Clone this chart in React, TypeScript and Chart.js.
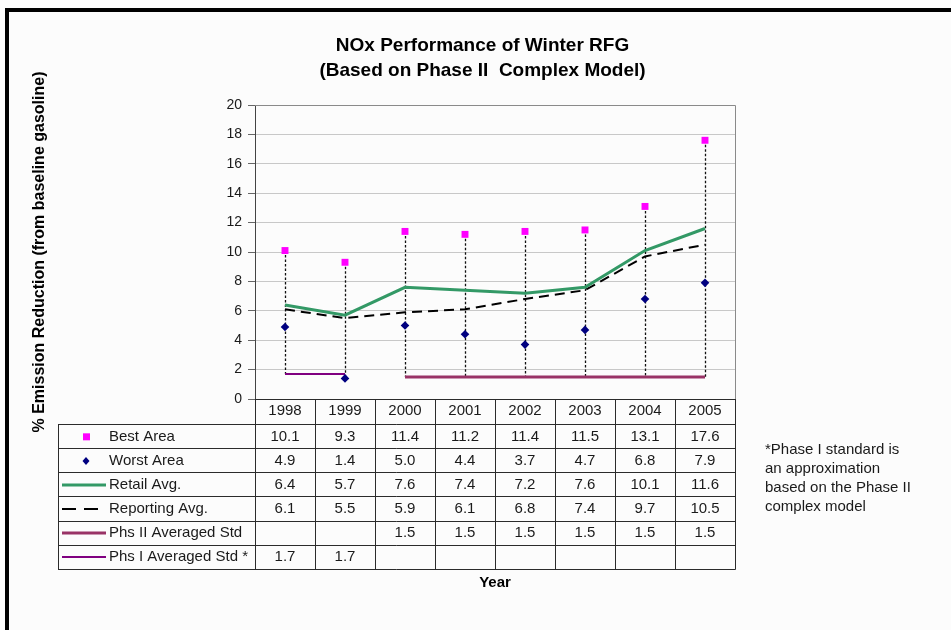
import React, { useEffect, useRef } from "react";
import { Chart, registerables } from "chart.js";

Chart.register(...registerables);

// ---------- data ----------
const years = ["1998", "1999", "2000", "2001", "2002", "2003", "2004", "2005"];
const bestArea = [10.1, 9.3, 11.4, 11.2, 11.4, 11.5, 13.1, 17.6];
const worstArea = [4.9, 1.4, 5.0, 4.4, 3.7, 4.7, 6.8, 7.9];
const retailAvg = [6.4, 5.7, 7.6, 7.4, 7.2, 7.6, 10.1, 11.6];
const reportingAvg = [6.1, 5.5, 5.9, 6.1, 6.8, 7.4, 9.7, 10.5];
const phs2Std: (number | null)[] = [null, null, 1.5, 1.5, 1.5, 1.5, 1.5, 1.5];
const phs1Std: (number | null)[] = [1.7, 1.7, null, null, null, null, null, null];

const rowLabels = [
  "Best Area",
  "Worst Area",
  "Retail Avg.",
  "Reporting Avg.",
  "Phs II Averaged Std",
  "Phs I Averaged Std *",
];
const yMin = 0;
const yMax = 20;
const yStep = 2;

const titleLines = ["NOx Performance of Winter RFG", "(Based on Phase II  Complex Model)"];
const yTitle = "% Emission Reduction (from baseline gasoline)";
const xTitle = "Year";
const noteLines = ["*Phase I standard is", "an approximation", "based on the Phase II", "complex model"];

// ---------- styles ----------
const FONT = '"Liberation Sans", Arial, Helvetica, sans-serif';
const C_BEST = "#ff00ff";
const C_WORST = "#000080";
const C_RETAIL = "#339966";
const C_REPORT = "#000000";
const C_PHS2 = "#993366";
const C_PHS1 = "#800080";

const seriesList = [
  { label: rowLabels[0], data: bestArea, kind: "square", color: C_BEST },
  { label: rowLabels[1], data: worstArea, kind: "diamond", color: C_WORST },
  { label: rowLabels[2], data: retailAvg, kind: "line", color: C_RETAIL, width: 3 },
  { label: rowLabels[3], data: reportingAvg, kind: "dash", color: C_REPORT, width: 2 },
  { label: rowLabels[4], data: phs2Std, kind: "line", color: C_PHS2, width: 3 },
  { label: rowLabels[5], data: phs1Std, kind: "line", color: C_PHS1, width: 2 },
];

const framePlugin = {
  id: "frame",
  beforeDraw(chart: any) {
    const { ctx, width, height } = chart;
    ctx.save();
    ctx.fillStyle = "#fcfcfc";
    ctx.fillRect(0, 0, width, height);
    ctx.fillStyle = "#000";
    ctx.fillRect(5, 8, width - 5, 4);
    ctx.fillRect(5, 8, 4, height - 8);
    ctx.restore();
  },
};

const hiLoPlugin = {
  id: "hiLo",
  beforeDatasetsDraw(chart: any) {
    const { ctx } = chart;
    const xs = chart.scales.x;
    const ys = chart.scales.y;
    ctx.save();
    ctx.strokeStyle = "#111";
    ctx.lineWidth = 1.3;
    ctx.setLineDash([2.5, 2]);
    years.forEach((_, i) => {
      const vals: number[] = [];
      seriesList.forEach((s) => {
        const v = s.data[i];
        if (v !== null && v !== undefined) vals.push(v as number);
      });
      if (vals.length < 2) return;
      const x = Math.round(xs.getPixelForValue(i)) + 0.5;
      ctx.beginPath();
      ctx.moveTo(x, ys.getPixelForValue(Math.max(...vals)));
      ctx.lineTo(x, ys.getPixelForValue(Math.min(...vals)));
      ctx.stroke();
    });
    ctx.restore();
  },
  afterDatasetsDraw(chart: any) {
    const { ctx, chartArea } = chart;
    ctx.save();
    ctx.strokeStyle = "#8a8a8a";
    ctx.lineWidth = 1;
    ctx.beginPath();
    const t = Math.round(chartArea.top) + 0.5;
    const r = Math.round(chartArea.right) + 0.5;
    ctx.moveTo(chartArea.left, t);
    ctx.lineTo(r, t);
    ctx.lineTo(r, chartArea.bottom);
    ctx.stroke();
    ctx.restore();
  },
};

const tablePlugin = {
  id: "dataTable",
  afterDraw(chart: any) {
    const { ctx, chartArea } = chart;
    const xs = chart.scales.x;
    const n = years.length;
    const colW = (chartArea.right - chartArea.left) / n;
    const left = 58;
    const headerBottom = chartArea.bottom + 25.3;
    const rowH = 24.05;
    const tableBottom = headerBottom + seriesList.length * rowH;
    const px = (v: number) => Math.round(v) + 0.5;

    ctx.save();
    ctx.strokeStyle = "#2b2b2b";
    ctx.lineWidth = 1;
    ctx.setLineDash([]);
    ctx.beginPath();
    // axis line
    ctx.moveTo(chartArea.left, px(chartArea.bottom));
    ctx.lineTo(chartArea.right + 0.5, px(chartArea.bottom));
    for (let r = 0; r <= seriesList.length; r++) {
      const y = px(headerBottom + r * rowH);
      ctx.moveTo(left, y);
      ctx.lineTo(chartArea.right + 0.5, y);
    }
    ctx.moveTo(px(left), px(headerBottom));
    ctx.lineTo(px(left), px(tableBottom));
    for (let c = 0; c <= n; c++) {
      const x = px(chartArea.left + c * colW);
      ctx.moveTo(x, chartArea.bottom);
      ctx.lineTo(x, px(tableBottom));
    }
    ctx.stroke();

    ctx.font = `15px ${FONT}`;
    ctx.textBaseline = "middle";
    seriesList.forEach((s, r) => {
      const cy = headerBottom + r * rowH + rowH / 2 + 0.5;
      // legend key
      ctx.save();
      if (s.kind === "square") {
        ctx.fillStyle = s.color;
        ctx.fillRect(83, cy - 3.5, 7, 7);
      } else if (s.kind === "diamond") {
        ctx.fillStyle = s.color;
        ctx.beginPath();
        ctx.moveTo(86, cy - 4);
        ctx.lineTo(89.5, cy);
        ctx.lineTo(86, cy + 4);
        ctx.lineTo(82.5, cy);
        ctx.closePath();
        ctx.fill();
      } else {
        ctx.strokeStyle = s.color;
        ctx.lineWidth = s.width || 2;
        if (s.kind === "dash") ctx.setLineDash([14, 8]);
        ctx.beginPath();
        ctx.moveTo(62, cy);
        ctx.lineTo(106, cy);
        ctx.stroke();
      }
      ctx.restore();
      ctx.fillStyle = "#1a1a1a";
      ctx.textAlign = "left";
      ctx.fillText(s.label, 109, cy);
      ctx.textAlign = "center";
      s.data.forEach((v, i) => {
        if (v === null || v === undefined) return;
        ctx.fillText((v as number).toFixed(1), xs.getPixelForValue(i), cy);
      });
    });

    // note
    ctx.textAlign = "left";
    ctx.fillStyle = "#1a1a1a";
    noteLines.forEach((line, i) => {
      ctx.fillText(line, 765, 450 + i * 19);
    });
    ctx.restore();
  },
};

export default function App() {
  const canvasRef = useRef<HTMLCanvasElement | null>(null);

  useEffect(() => {
    const canvas = canvasRef.current;
    if (!canvas) return;
    Chart.defaults.font.family = FONT;
    const chart = new Chart(canvas, {
      type: "line",
      data: {
        labels: years,
        datasets: [
          {
            label: rowLabels[0],
            data: bestArea,
            showLine: false,
            pointStyle: "rect",
            pointRadius: 4.9,
            pointBackgroundColor: C_BEST,
            pointBorderColor: C_BEST,
            pointBorderWidth: 0,
            borderColor: C_BEST,
            backgroundColor: C_BEST,
          },
          {
            label: rowLabels[1],
            data: worstArea,
            showLine: false,
            pointStyle: "rectRot",
            pointRadius: 4.3,
            pointBackgroundColor: C_WORST,
            pointBorderColor: C_WORST,
            pointBorderWidth: 0,
            borderColor: C_WORST,
            backgroundColor: C_WORST,
          },
          {
            label: rowLabels[2],
            data: retailAvg,
            borderColor: C_RETAIL,
            borderWidth: 3,
            pointRadius: 0,
            tension: 0,
          },
          {
            label: rowLabels[3],
            data: reportingAvg,
            borderColor: C_REPORT,
            borderWidth: 2,
            borderDash: [10, 6],
            pointRadius: 0,
            tension: 0,
          },
          {
            label: rowLabels[4],
            data: phs2Std,
            borderColor: C_PHS2,
            borderWidth: 3,
            pointRadius: 0,
            spanGaps: false,
          },
          {
            label: rowLabels[5],
            data: phs1Std,
            borderColor: C_PHS1,
            borderWidth: 2,
            pointRadius: 0,
            spanGaps: false,
          },
        ],
      },
      options: {
        animation: false,
        responsive: false,
        devicePixelRatio: 1,
        layout: { padding: { left: 14, right: 0, top: 0, bottom: 38 } },
        plugins: {
          legend: { display: false },
          tooltip: { enabled: false },
          title: {
            display: true,
            text: titleLines,
            color: "#000",
            font: { size: 19, weight: "bold", lineHeight: 25 / 19, family: FONT },
            padding: { top: 33.5, bottom: 21.5 },
          },
        },
        scales: {
          x: {
            type: "category",
            offset: true,
            grid: { display: false, drawTicks: false },
            border: { display: false },
            ticks: {
              color: "#1a1a1a",
              font: { size: 15, family: FONT },
              padding: 3,
              autoSkip: false,
              maxRotation: 0,
            },
            title: {
              display: true,
              text: xTitle,
              color: "#000",
              font: { size: 15, weight: "bold", family: FONT },
              padding: { top: 0, bottom: 0 },
            },
            afterFit: (s: any) => {
              s.height = 193;
            },
          },
          y: {
            type: "linear",
            position: "left",
            min: yMin,
            max: yMax,
            ticks: {
              stepSize: yStep,
              color: "#1a1a1a",
              font: { size: 14, family: FONT },
              padding: 6,
            },
            grid: { color: "#c8c8c8", tickColor: "#666", tickLength: 7, lineWidth: 1 },
            border: { color: "#444", width: 1 },
            title: {
              display: true,
              text: yTitle,
              color: "#000",
              font: { size: 16, weight: "bold", family: FONT },
              padding: { top: 16, bottom: 0 },
            },
            afterFit: (s: any) => {
              s.width = 241;
            },
          },
          yRight: {
            type: "linear",
            position: "right",
            min: yMin,
            max: yMax,
            grid: { display: false, drawOnChartArea: false, drawTicks: false },
            border: { display: false },
            ticks: { display: false },
            afterFit: (s: any) => {
              s.width = 216;
            },
          },
        },
      },
      plugins: [framePlugin, hiLoPlugin, tablePlugin],
    } as any);
    return () => chart.destroy();
  }, []);

  return (
    <div style={{ position: "absolute", left: 0, top: 0, width: 951, height: 630 }}>
      <canvas ref={canvasRef} width={951} height={630} style={{ display: "block" }} />
    </div>
  );
}
